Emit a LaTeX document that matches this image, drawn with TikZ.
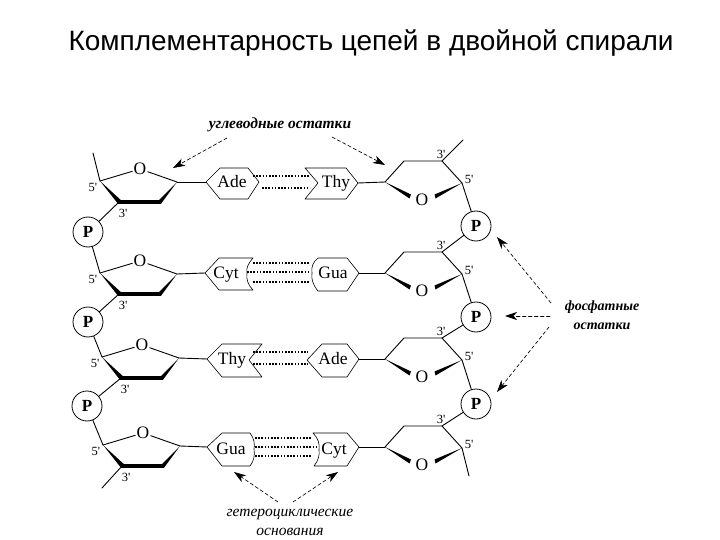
\documentclass[tikz,border=0pt]{standalone}
\usepackage{fontspec}
\setmainfont{Liberation Serif}
\newfontfamily\titlefont{Liberation Sans}
\usetikzlibrary{arrows.meta}
\tikzset{
  bond/.style={line width=0.9pt},
  basebox/.style={line width=0.6pt},
  basetext/.style={inner sep=0pt,text height=12pt,text depth=3pt,font=\fontsize{17.5}{17.5}\selectfont},
  ringO/.style={inner sep=1.2pt,font=\fontsize{17.5}{17.5}\selectfont},
  phos/.style={draw,circle,line width=0.8pt,minimum size=30pt,inner sep=0pt,font=\bfseries\fontsize{17}{17}\selectfont},
  prime/.style={inner sep=0pt,font=\fontsize{12.5}{12.5}\selectfont},
  hbond/.style={line width=1.3pt,line cap=butt,dash pattern=on 1.5pt off 1.7pt},
  pointer/.style={line width=0.65pt,dash pattern=on 3.5pt off 2.5pt,-{Stealth[length=12pt,width=8pt,inset=3.5pt]}},
  caption/.style={inner sep=0pt,font=\itshape\bfseries\fontsize{15.5}{15.5}\selectfont}
}
\begin{document}
\begin{tikzpicture}[x=1pt,y=-1pt,line cap=round,line join=round,>=latex]
  \useasboundingbox (0,0) rectangle (720,540);
  \node[inner sep=0pt,font=\titlefont\fontsize{28}{28}\selectfont] (title) at (371,43) {Комплементарность цепей в двойной спирали};
  % left sugars
  \foreach \n/\dx/\yy in {1/100/181,2/100/273,3/102/357,4/103/445}{
    \begin{scope}[shift={(\dx,\yy)}]
      \coordinate (la\n) at (0,0);
      \coordinate (lb\n) at (77,1);
      \coordinate (lc\n) at (19,21);
      \node[ringO] (lo\n) at (40,-12) {O};
      \draw[bond] (la\n) -- (lo\n) -- (lb\n);
      \fill (0,0) -- (21,19.2) -- (59,19.2) -- (77,1) -- (61,22.8) -- (18,22.8) -- cycle;
      \node[prime] (lf\n) at (-7,6) {5\textquotesingle};
      \node[prime] (lt\n) at (23,32) {3\textquotesingle};
    \end{scope}
  }
  % right sugars
  \foreach \n/\yy in {1/182,2/273,3/359,4/447}{
    \begin{scope}[shift={(385,\yy)}]
      \coordinate (ra\n) at (0,0);
      \coordinate (rb\n) at (77,1);
      \coordinate (rc\n) at (57,-21);
      \node[ringO] (ro\n) at (37,18) {O};
      \draw[bond] (ra\n) -- (19,-21) -- (rc\n) -- (rb\n);
      \fill (0,0) -- (26,12.5) -- (24.5,16.5) -- cycle;
      \fill (77,1) -- (49.5,12.5) -- (50.5,16.5) -- cycle;
      \node[prime] (rt\n) at (56,-28) {3\textquotesingle};
      \node[prime] (rf\n) at (84,-3) {5\textquotesingle};
    \end{scope}
  }
  % phosphates
  \node[phos] (lp1) at (88,232) {P};
  \node[phos] (lp2) at (88,322) {P};
  \node[phos] (lp3) at (87,406) {P};
  \node[phos] (rp1) at (476,226) {P};
  \node[phos] (rp2) at (476,317) {P};
  \node[phos] (rp3) at (476,404) {P};
  \coordinate (ltail1) at (93,153);
  \coordinate (ltail2) at (102,488);
  \coordinate (rtail1) at (463,140);
  \coordinate (rtail2) at (469,476);
  \draw[bond] (ltail1) -- (la1);
  \draw[bond] (lc1) -- (lp1) -- (la2);
  \draw[bond] (lc2) -- (lp2) -- (la3);
  \draw[bond] (lc3) -- (lp3) -- (la4);
  \draw[bond] (lc4) -- (ltail2);
  \draw[bond] (rtail1) -- (rc1);
  \draw[bond] (rb1) -- (rp1) -- (rc2);
  \draw[bond] (rb2) -- (rp2) -- (rc3);
  \draw[bond] (rb3) -- (rp3) -- (rc4);
  \draw[bond] (rb4) -- (rtail2);
  % bases, row 1
  \draw[basebox] (206,182) coordinate (bl1) -- (220,168) -- (248,168) -- (259,182) -- (248,199) -- (220,199) -- cycle;
  \draw[basebox] (305,168) -- (346,168) -- (358,183) coordinate (br1) -- (346,199) -- (305,199) -- (318,183) -- cycle;
  \node[basetext] (ade1) at (232,183) {Ade};
  \node[basetext] (thy1) at (336,183) {Thy};
  % bases, row 2
  \draw[basebox] (205,273) coordinate (bl2) -- (219,258) -- (253,258) .. controls (248,264) and (246,268) .. (247,273) .. controls (246,279) and (248,285) .. (253,290) -- (219,290) -- cycle;
  \draw[basebox] (318,258) -- (347,258) -- (359,273) coordinate (br2) -- (347,291) -- (318,291) .. controls (313,285) and (311,279) .. (312,273) .. controls (311,267) and (313,262) .. (318,258) -- cycle;
  \node[basetext] (cyt2) at (226,274) {Cyt};
  \node[basetext] (gua2) at (333,274) {Gua};
  % bases, row 3
  \draw[basebox] (207,359) coordinate (bl3) -- (222,344) -- (262,344) -- (249,360) -- (262,377) -- (222,377) -- cycle;
  \draw[basebox] (307,360) -- (322,344) -- (347,344) -- (359,359) coordinate (br3) -- (347,377) -- (322,377) -- cycle;
  \node[basetext] (thy3) at (232,360) {Thy};
  \node[basetext] (ade3) at (333,360) {Ade};
  % bases, row 4
  \draw[basebox] (207,447) coordinate (bl4) -- (222,433) -- (250,433) .. controls (254,438) and (255,444) .. (254,449) .. controls (255,455) and (254,461) .. (250,466) -- (222,466) -- cycle;
  \draw[basebox] (313,433) -- (347,433) -- (359,447) coordinate (br4) -- (347,466) -- (314,466) .. controls (318,461) and (320,455) .. (319,450) .. controls (320,444) and (318,438) .. (313,433) -- cycle;
  \node[basetext] (gua4) at (231,450) {Gua};
  \node[basetext] (cyt4) at (334,450) {Cyt};
  \foreach \n in {1,2,3,4}{
    \draw[bond] (lb\n) -- (bl\n);
    \draw[bond] (br\n) -- (ra\n);
  }
  % hydrogen bonds
  \foreach \xa/\xb/\yy in {253/310/176,262/310/188,253/310/263,247/310/272,253/310/282,253/308/352,253/308/364,255/312/438,255/318/447,255/312/456}
    \draw[hbond] (\xa,\yy) -- (\xb,\yy);
  % captions and pointers
  \node[caption] (sugars) at (280,125) {углеводные остатки};
  \node[caption,font=\itshape\bfseries\fontsize{14}{14}\selectfont] (phos1) at (602,307) {фосфатные};
  \node[caption,font=\itshape\bfseries\fontsize{14}{14}\selectfont] (phos2) at (602,326) {остатки};
  \node[caption,font=\itshape\fontsize{15.5}{15.5}\selectfont] (bases1) at (290,514) {гетероциклические};
  \node[caption,font=\itshape\fontsize{15.5}{15.5}\selectfont] (bases2) at (290,532) {основания};
  \coordinate (sa) at (227,138);
  \coordinate (sb) at (173,168);
  \coordinate (sc) at (332,137);
  \coordinate (sd) at (385,165);
  \coordinate (pa) at (551,303);
  \coordinate (pb) at (497,237);
  \coordinate (pc) at (550,316);
  \coordinate (pd) at (505,316);
  \coordinate (pe) at (549,327);
  \coordinate (pf) at (497,392);
  \coordinate (ba) at (278,502);
  \coordinate (bb) at (234,472);
  \coordinate (bc) at (293,502);
  \coordinate (bd) at (338,472);
  \draw[pointer] (sa) -- (sb);
  \draw[pointer] (sc) -- (sd);
  \draw[pointer] (pa) -- (pb);
  \draw[pointer] (pc) -- (pd);
  \draw[pointer] (pe) -- (pf);
  \draw[pointer] (ba) -- (bb);
  \draw[pointer] (bc) -- (bd);
\end{tikzpicture}
\end{document}
